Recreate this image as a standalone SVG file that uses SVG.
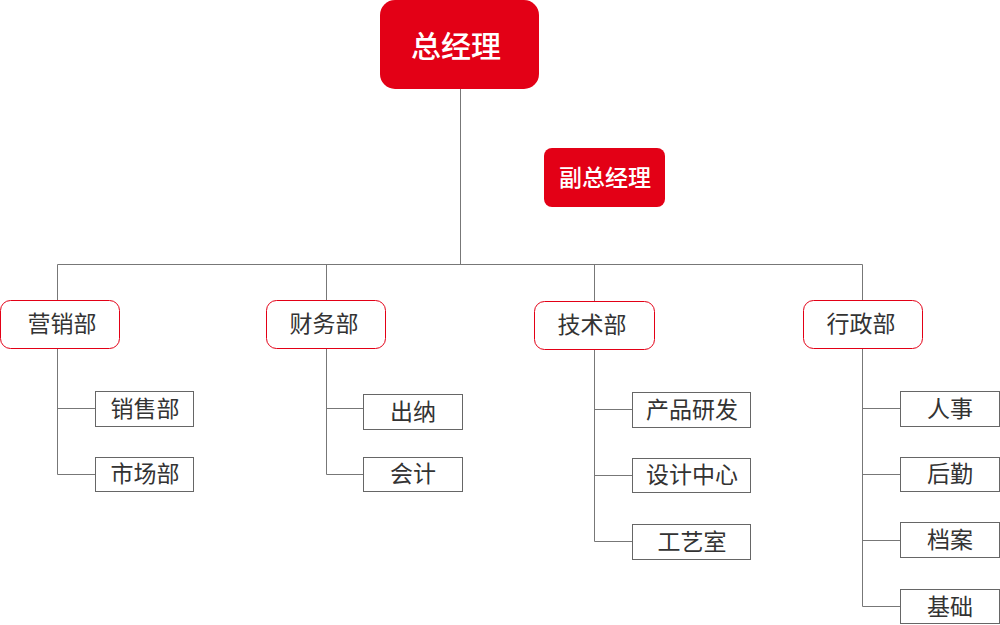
<svg xmlns="http://www.w3.org/2000/svg" width="1000" height="625" viewBox="0 0 1000 625">
<style>
.top{fill:#e30016}
.tt{fill:#fff;font-family:"Noto Sans CJK SC","Noto Sans",sans-serif;text-anchor:middle;dominant-baseline:central;font-weight:500}
.dept rect{fill:#fff;stroke:#e30016;stroke-width:1}
.sub rect{fill:#fff;stroke:#666;stroke-width:1}
.lt{fill:#333;font-family:"Noto Sans CJK SC","Noto Sans",sans-serif;text-anchor:middle;dominant-baseline:central;font-size:23px}
.c{fill:none;stroke:#777;stroke-width:1}
</style>
<rect width="1000" height="625" fill="#fff"/>
<g id="connectors" class="c">
<path d="M460.5 89V264.5M57.5 264.5H862.5M57.5 264.5V300M326.5 264.5V300M594.5 264.5V301M862.5 264.5V300"/>
<path d="M57.5 348V474.5H96M57.5 408.5H96"/>
<path d="M326.5 348V474.5H364M326.5 408.5H364"/>
<path d="M594.5 349V541.5H633M594.5 409.5H633M594.5 475.5H633"/>
<path d="M862.5 348V606.5H901M862.5 408.5H901M862.5 474.5H901M862.5 540.5H901"/>
</g>
<g id="gm"><rect class="top" x="380" y="0" width="159" height="89" rx="15"/><text class="tt" x="456" y="44" font-size="30">总经理</text></g>
<g id="vgm"><rect class="top" x="544" y="148" width="121" height="59" rx="8"/><text class="tt" x="605" y="175.5" font-size="23">副总经理</text></g>
<g id="d1" class="dept"><rect x="0.5" y="300.5" width="119" height="48" rx="10"/><text class="lt" x="62" y="322">营销部</text></g>
<g id="d2" class="dept"><rect x="266.5" y="300.5" width="119" height="48" rx="10"/><text class="lt" x="324" y="322">财务部</text></g>
<g id="d3" class="dept"><rect x="534.5" y="301.5" width="120" height="48" rx="10"/><text class="lt" x="592" y="323">技术部</text></g>
<g id="d4" class="dept"><rect x="803.5" y="300.5" width="119" height="48" rx="10"/><text class="lt" x="861" y="322">行政部</text></g>
<g id="s1" class="sub"><rect x="95.5" y="391.5" width="98" height="35"/><text class="lt" x="145" y="407">销售部</text></g>
<g id="s2" class="sub"><rect x="95.5" y="457.5" width="98" height="34"/><text class="lt" x="145" y="472">市场部</text></g>
<g id="s3" class="sub"><rect x="363.5" y="394.5" width="99" height="35"/><text class="lt" x="413" y="410">出纳</text></g>
<g id="s4" class="sub"><rect x="363.5" y="457.5" width="99" height="34"/><text class="lt" x="413" y="472">会计</text></g>
<g id="s5" class="sub"><rect x="632.5" y="392.5" width="118" height="35"/><text class="lt" x="692" y="408">产品研发</text></g>
<g id="s6" class="sub"><rect x="632.5" y="458.5" width="118" height="34"/><text class="lt" x="692" y="473">设计中心</text></g>
<g id="s7" class="sub"><rect x="632.5" y="524.5" width="118" height="35"/><text class="lt" x="692" y="540">工艺室</text></g>
<g id="s8" class="sub"><rect x="900.5" y="391.5" width="99" height="35"/><text class="lt" x="950" y="407">人事</text></g>
<g id="s9" class="sub"><rect x="900.5" y="457.5" width="99" height="34"/><text class="lt" x="950" y="472">后勤</text></g>
<g id="s10" class="sub"><rect x="900.5" y="522.5" width="99" height="35"/><text class="lt" x="950" y="538">档案</text></g>
<g id="s11" class="sub"><rect x="900.5" y="589.5" width="99" height="34"/><text class="lt" x="950" y="605">基础</text></g>
</svg>
